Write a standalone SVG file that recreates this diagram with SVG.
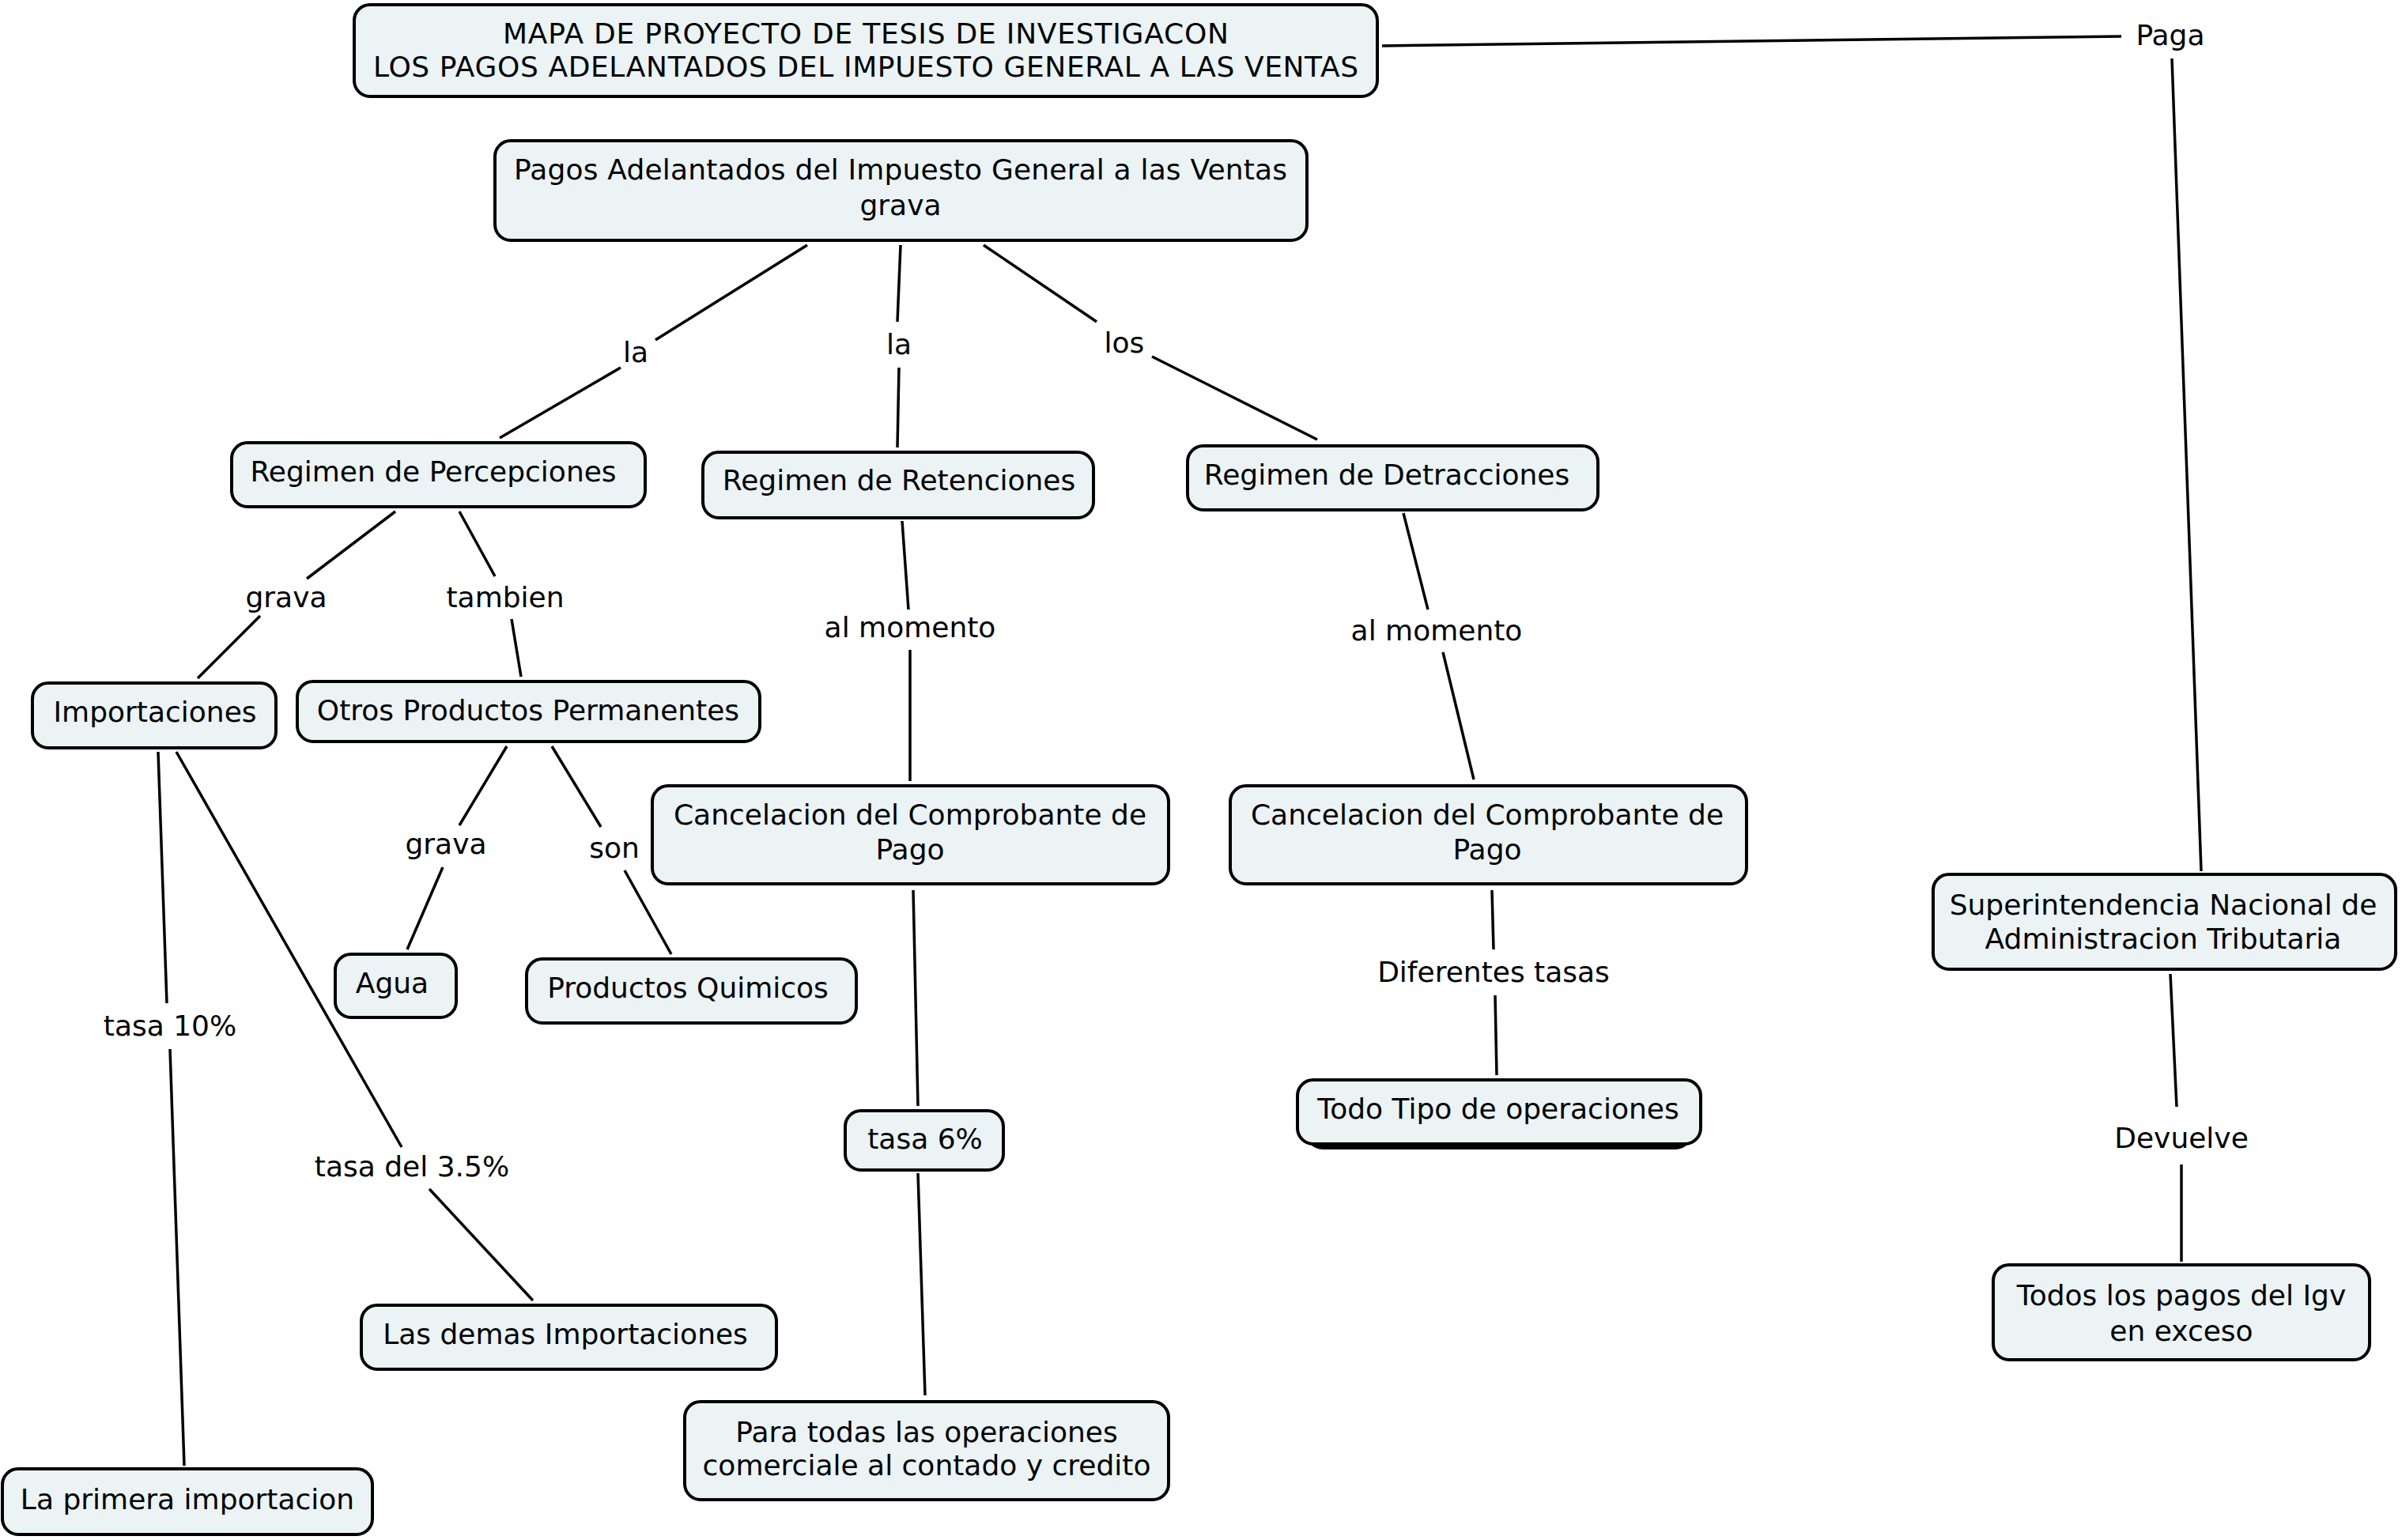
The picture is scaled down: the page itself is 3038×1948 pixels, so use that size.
<svg xmlns="http://www.w3.org/2000/svg" width="3038" height="1948" viewBox="0 0 3038 1948">
<style>
.n rect{fill:#ebf3f5;stroke:#000;stroke-width:4}
.t{font-family:"DejaVu Sans",Verdana,sans-serif;font-size:36px;fill:#000;text-anchor:middle}
.c line{stroke:#000;stroke-width:3.5}
</style>
<rect width="3038" height="1948" fill="#fff"/>
<g class="c" id="connectors">
<line x1="1748" y1="58" x2="2683" y2="46"/>
<line x1="2747" y1="74" x2="2784" y2="1102"/>
<line x1="2745" y1="1232" x2="2753" y2="1400"/>
<line x1="2759" y1="1473" x2="2759" y2="1596"/>
<line x1="1021" y1="310" x2="829" y2="430"/>
<line x1="785" y1="465" x2="632" y2="554"/>
<line x1="1139" y1="310" x2="1135" y2="407"/>
<line x1="1137" y1="465" x2="1135" y2="566"/>
<line x1="1244" y1="310" x2="1387" y2="407"/>
<line x1="1457" y1="451" x2="1666" y2="556"/>
<line x1="500" y1="647" x2="388" y2="732"/>
<line x1="329" y1="779" x2="250" y2="858"/>
<line x1="581" y1="647" x2="626" y2="729"/>
<line x1="647" y1="783" x2="659" y2="856"/>
<line x1="1141" y1="659" x2="1149" y2="771"/>
<line x1="1151" y1="822" x2="1151" y2="988"/>
<line x1="1775" y1="649" x2="1806" y2="771"/>
<line x1="1825" y1="825" x2="1864" y2="986"/>
<line x1="641" y1="944" x2="581" y2="1044"/>
<line x1="560" y1="1097" x2="515" y2="1201"/>
<line x1="698" y1="944" x2="760" y2="1046"/>
<line x1="790" y1="1101" x2="849" y2="1207"/>
<line x1="200" y1="951" x2="211" y2="1269"/>
<line x1="215" y1="1327" x2="233" y2="1854"/>
<line x1="223" y1="951" x2="508" y2="1451"/>
<line x1="543" y1="1504" x2="674" y2="1645"/>
<line x1="1155" y1="1126" x2="1161" y2="1399"/>
<line x1="1161" y1="1484" x2="1170" y2="1765"/>
<line x1="1887" y1="1126" x2="1889" y2="1201"/>
<line x1="1891" y1="1259" x2="1893" y2="1360"/>
</g>
<g id="labels">
<text class="t" x="2745" y="57">Paga</text>
<text class="t" x="804" y="458">la</text>
<text class="t" x="1137" y="448">la</text>
<text class="t" x="1422" y="446">los</text>
<text class="t" x="362" y="768">grava</text>
<text class="t" x="639" y="768">tambien</text>
<text class="t" x="1151" y="806">al momento</text>
<text class="t" x="1817" y="810">al momento</text>
<text class="t" x="564" y="1080">grava</text>
<text class="t" x="777" y="1085">son</text>
<text class="t" x="215" y="1310">tasa 10%</text>
<text class="t" x="521" y="1488">tasa del 3.5%</text>
<text class="t" x="1889" y="1242">Diferentes tasas</text>
<text class="t" x="2759" y="1452">Devuelve</text>
</g>
<g class="n" id="n-title"><rect x="448" y="6" width="1294" height="116" rx="20"/><text class="t" x="1095" y="55" textLength="918">MAPA DE PROYECTO DE TESIS DE INVESTIGACON</text><text class="t" x="1095" y="97" textLength="1246">LOS PAGOS ADELANTADOS DEL IMPUESTO GENERAL A LAS VENTAS</text></g>
<g class="n" id="n-pagos"><rect x="626" y="178" width="1027" height="126" rx="20"/><text class="t" x="1139" y="227" textLength="978">Pagos Adelantados del Impuesto General a las Ventas</text><text class="t" x="1139" y="272">grava</text></g>
<g class="n" id="n-percep"><rect x="293" y="560" width="523" height="81" rx="20"/><text class="t" x="548" y="609">Regimen de Percepciones</text></g>
<g class="n" id="n-reten"><rect x="889" y="572" width="494" height="83" rx="20"/><text class="t" x="1137" y="620">Regimen de Retenciones</text></g>
<g class="n" id="n-detrac"><rect x="1502" y="564" width="519" height="81" rx="20"/><text class="t" x="1754" y="613">Regimen de Detracciones</text></g>
<g class="n" id="n-import"><rect x="41" y="864" width="308" height="82" rx="20"/><text class="t" x="196" y="913">Importaciones</text></g>
<g class="n" id="n-otros"><rect x="376" y="862" width="585" height="76" rx="20"/><text class="t" x="668" y="911">Otros Productos Permanentes</text></g>
<g class="n" id="n-agua"><rect x="424" y="1207" width="153" height="80" rx="20"/><text class="t" x="496" y="1256">Agua</text></g>
<g class="n" id="n-quimicos"><rect x="666" y="1213" width="417" height="81" rx="20"/><text class="t" x="870" y="1262">Productos Quimicos</text></g>
<g class="n" id="n-cancel1"><rect x="825" y="994" width="653" height="124" rx="20"/><text class="t" x="1151" y="1043">Cancelacion del Comprobante de</text><text class="t" x="1151" y="1087">Pago</text></g>
<g class="n" id="n-cancel2"><rect x="1556" y="994" width="653" height="124" rx="20"/><text class="t" x="1881" y="1043">Cancelacion del Comprobante de</text><text class="t" x="1881" y="1087">Pago</text></g>
<g class="n" id="n-todo"><rect x="1653" y="1376" width="486" height="76" rx="20" style="fill:#000;stroke:#000"/><rect x="1641" y="1366" width="510" height="81" rx="20"/><text class="t" x="1895" y="1415">Todo Tipo de operaciones</text></g>
<g class="n" id="n-tasa6"><rect x="1069" y="1405" width="200" height="75" rx="20"/><text class="t" x="1170" y="1453">tasa 6%</text></g>
<g class="n" id="n-para"><rect x="866" y="1773" width="612" height="124" rx="20"/><text class="t" x="1172" y="1824">Para todas las operaciones</text><text class="t" x="1172" y="1866">comerciale al contado y credito</text></g>
<g class="n" id="n-demas"><rect x="457" y="1651" width="525" height="81" rx="20"/><text class="t" x="715" y="1700">Las demas Importaciones</text></g>
<g class="n" id="n-primera"><rect x="3" y="1858" width="468" height="83" rx="20"/><text class="t" x="237" y="1909">La primera importacion</text></g>
<g class="n" id="n-sunat"><rect x="2445" y="1106" width="585" height="120" rx="20"/><text class="t" x="2736" y="1157">Superintendencia Nacional de</text><text class="t" x="2736" y="1200">Administracion Tributaria</text></g>
<g class="n" id="n-todos"><rect x="2521" y="1600" width="476" height="120" rx="20"/><text class="t" x="2759" y="1651">Todos los pagos del Igv</text><text class="t" x="2759" y="1696">en exceso</text></g>
</svg>
